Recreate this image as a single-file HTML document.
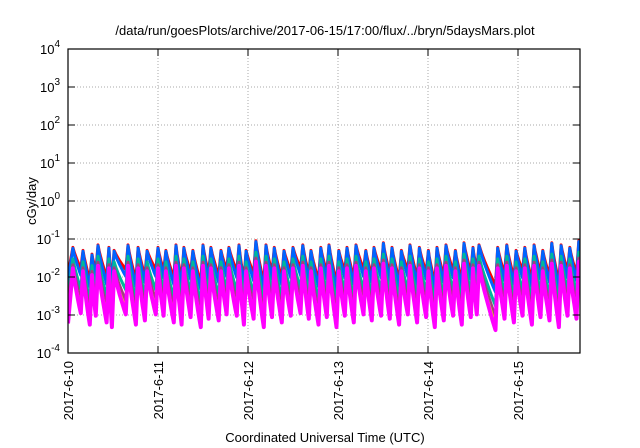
<!DOCTYPE html>
<html><head><meta charset="utf-8"><style>
body{margin:0;background:#fff;width:640px;height:448px;overflow:hidden}
svg{display:block;font-family:"Liberation Sans",sans-serif}
</style></head><body>
<svg id="chart" width="640" height="448">
<text x="325" y="35" font-size="13" text-anchor="middle">/data/run/goesPlots/archive/2017-06-15/17:00/flux/../bryn/5daysMars.plot</text>
<text transform="translate(36,201) rotate(-90)" font-size="13" text-anchor="middle">cGy/day</text>
<text x="325" y="442" font-size="13" text-anchor="middle">Coordinated Universal Time (UTC)</text>
<g id="grid"></g><g id="series"></g><g id="axes"></g>
</svg>
<script>
const yExponents=[4,3,2,1,0,-1,-2,-3,-4];
const dayLabels=["2017-6-10","2017-6-11","2017-6-12","2017-6-13","2017-6-14","2017-6-15"];
const peakHours=[1.3,4.0,6.4,8.0,10.9,12.3,16.0,18.7,21.1,24.0,26.1,28.8,30.9,33.3,36.0,38.1,40.8,42.9,45.6,47.5,50.1,52.8,55.0,57.6,60.0,62.6,64.8,67.4,69.6,72.2,74.4,76.8,79.4,81.6,84.1,86.4,88.9,91.2,93.7,96.1,98.4,100.8,103.3,105.6,108.0,109.6,114.6,117.0,119.5,121.8,124.3,126.6,129.0,131.5,133.8,136.2];
const redPeaks=[0.06,0.05,0.04,0.07,0.06,0.05,0.07,0.06,0.05,0.06,0.05,0.07,0.06,0.05,0.07,0.06,0.05,0.06,0.07,0.05,0.09,0.07,0.06,0.05,0.06,0.07,0.05,0.06,0.07,0.05,0.06,0.07,0.05,0.06,0.08,0.06,0.05,0.07,0.06,0.05,0.06,0.07,0.05,0.08,0.06,0.07,0.06,0.07,0.05,0.06,0.07,0.05,0.08,0.07,0.06,0.09];
const troughScale=[1.4,0.7,1.2,0.8,0.6,1.3,0.7,0.9,1.3,1.2,0.8,0.7,1.1,0.6,1.0,0.9,1.3,1.2,0.7,1.0,0.6,1.1,0.8,1.2,1.4,1.0,0.7,1.1,0.6,1.2,0.8,1.3,0.9,1.2,1.0,0.7,1.3,0.8,1.1,0.6,0.9,1.2,0.7,1.1,1.3,0.5,1.0,0.8,1.2,0.7,1.1,0.9,0.6,1.2,1.0,1.0];
const seriesNames=["red","blue","teal","purple","yellow","magenta"];
const seriesColors=["#ff0000","#0064ff","#00b89a","#a04080","#e8e800","#ff00ff"];
const seriesPeakRatio=[1,0.95,0.5,0.35,0.25,0.28];
const seriesTrough=[0.012,0.008,0.0035,0.0018,0.0011,0.0008];
const startVal=[0.012,0.008,0.003,0.002,0.001,0.0006];

const L=68,R=580,T=49,B=353,HOURS=137;
const xs=h=>L+(h/24)*90;
const ys=v=>T+(4-Math.log10(v))*38;
const NS="http://www.w3.org/2000/svg";
function mk(tag,parent,attrs){const e=document.createElementNS(NS,tag);for(const k in attrs)e.setAttribute(k,attrs[k]);parent.appendChild(e);return e;}
const grid=document.getElementById('grid'),axes=document.getElementById('axes'),sg=document.getElementById('series');
yExponents.forEach(p=>{const y=ys(Math.pow(10,p));
 if(p<4&&p>-4){const g=mk('line',grid,{x1:L,x2:R,y1:y,y2:y,stroke:'#aaa','stroke-dasharray':'1,2','stroke-width':1});
 
 }
 const t=mk('text',axes,{x:L-8,y:y+5,'font-size':13,'text-anchor':'end'});
 
 
 t.textContent='10';const s=mk('tspan',t,{dy:-7,'font-size':10});s.textContent=String(p);
 mk('line',axes,{x1:L,x2:L+7,y1:y,y2:y,stroke:'#000'});mk('line',axes,{x1:R,x2:R-7,y1:y,y2:y,stroke:'#000'});
});
dayLabels.forEach((d,i)=>{const x=xs(i*24);
 if(i>0){const g=mk('line',grid,{x1:x,x2:x,y1:T,y2:B,stroke:'#aaa','stroke-dasharray':'1,2'});
 
 }
 mk('line',axes,{x1:x,x2:x,y1:B,y2:B-7,stroke:'#000'});mk('line',axes,{x1:x,x2:x,y1:T,y2:T+7,stroke:'#000'});
 const t=mk('text',axes,{transform:`translate(${x+5},361) rotate(-90)`,'font-size':13,'text-anchor':'end'});
 
 
 t.textContent=d;
});
const fr=mk('rect',axes,{x:L,y:T,width:R-L,height:B-T,fill:'none',stroke:'#000','stroke-width':1.2});


const clip=mk('clipPath',sg,{id:'pc'});mk('rect',clip,{x:L,y:T,width:R-L,height:B-T});
seriesNames.forEach((n,s)=>{
 let pts=[[0,startVal[s]]];
 peakHours.forEach((h,i)=>{
  const pk=redPeaks[i]*seriesPeakRatio[s];
  const next=i+1<peakHours.length?peakHours[i+1]:HOURS+3;
  const tr=seriesTrough[s]*troughScale[i];
  pts.push([h,pk]);
  const N=6;for(let k=1;k<=N;k++){const f=k/N;pts.push([h+(next-0.6-h)*f,pk*Math.pow(tr/pk,Math.pow(f,0.85))]);}
 });
 const d=pts.map((p,i)=>(i?'L':'M')+xs(p[0]).toFixed(1)+','+ys(p[1]).toFixed(1)).join('');
 const path=mk('path',sg,{d:d,fill:'none',stroke:seriesColors[s],'stroke-width':n==='magenta'?4:3,'clip-path':'url(#pc)','stroke-linejoin':'round'});
 
 
});
</script>
</body></html>
